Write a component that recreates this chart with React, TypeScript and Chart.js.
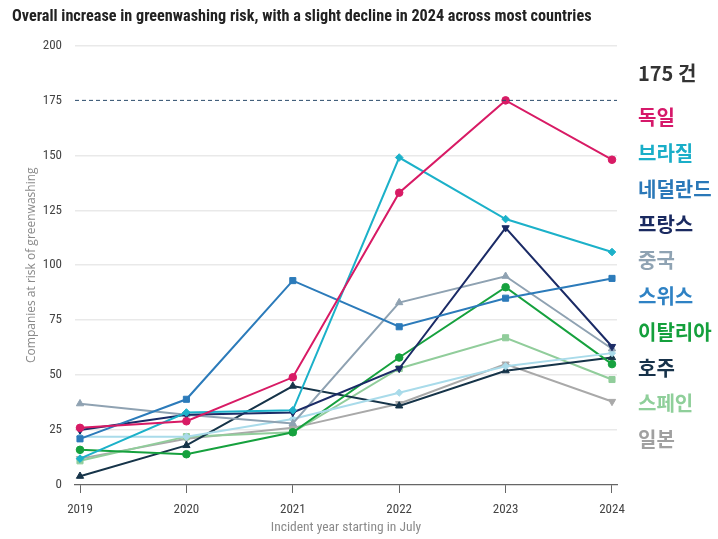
import React, { useEffect, useRef } from "react";
import { Chart, registerables } from "chart.js";

Chart.register(...registerables);

const YEARS = [2019, 2020, 2021, 2022, 2023, 2024];
const Y_TICKS = [0, 25, 50, 75, 100, 125, 150, 175, 200];
const REF_VALUE = 175;
const REF_LABEL = "175 건";
const TITLE = "Overall increase in greenwashing risk, with a slight decline in 2024 across most countries";
const Y_TITLE = "Companies at risk of greenwashing";
const X_TITLE = "Incident year starting in July";

const COUNTRIES = ["독일", "브라질", "네덜란드", "프랑스", "중국", "스위스", "이탈리아", "호주", "스페인", "일본"];
const GERMANY = [26, 29, 49, 133, 175, 148];
const BRAZIL = [12, 33, 34, 149, 121, 106];
const NETHERLANDS = [21, 39, 93, 72, 85, 94];
const FRANCE = [25, 32, 33, 53, 117, 63];
const CHINA = [37, 32, 28, 83, 95, 62];
const SWITZERLAND = [22, 22, 30, 42, 54, 60];
const ITALY = [16, 14, 24, 58, 90, 55];
const AUSTRALIA = [4, 18, 45, 36, 52, 58];
const SPAIN = [11, 22, 24, 53, 67, 48];
const JAPAN = [12, 21, 26, 37, 55, 38];
const SERIES = [GERMANY, BRAZIL, NETHERLANDS, FRANCE, CHINA, SWITZERLAND, ITALY, AUSTRALIA, SPAIN, JAPAN];

const LINE_COLORS = ["#d81b65", "#1cb1c9", "#2c7bba", "#1b2b66", "#8fa2b2", "#a9dbea", "#16a13e", "#163449", "#91cd9b", "#a9a9a9"];
const LEGEND_COLORS = ["#d6186a", "#1aaec8", "#2a78b8", "#1a2a60", "#8fa3b3", "#2f82c4", "#14a03c", "#17324a", "#8fcf9a", "#a0a0a0"];
const POINT_STYLES = ["circle", "rectRot", "rect", "triangle", "triangle", "rectRot", "circle", "triangle", "rect", "triangle"];
const POINT_ROT = [0, 0, 0, 180, 0, 0, 0, 0, 0, 180];
const POINT_R = [3.8, 3.8, 4.3, 4.2, 4.2, 3.6, 3.8, 4.2, 4.3, 4.2];

const NARROW = "'Liberation Sans Narrow', 'Roboto Condensed', 'Arial Narrow', 'Liberation Sans', sans-serif";
const KR = "'Noto Sans CJK KR', 'Noto Sans', sans-serif";

const refLine = {
  id: "refLine",
  afterDatasetsDraw(chart: any) {
    const { ctx, chartArea, scales } = chart;
    const y = scales.y.getPixelForValue(REF_VALUE);
    ctx.save();
    ctx.strokeStyle = "#2a4a6a";
    ctx.lineWidth = 1;
    ctx.setLineDash([4, 3]);
    ctx.beginPath();
    ctx.moveTo(chartArea.left, y);
    ctx.lineTo(chartArea.right, y);
    ctx.stroke();
    ctx.restore();
  },
};

export default function App() {
  const ref = useRef<HTMLCanvasElement | null>(null);

  useEffect(() => {
    if (!ref.current) return;
    const datasets = COUNTRIES.map((name, i) => ({
      label: name,
      data: YEARS.map((yr, j) => ({ x: yr, y: SERIES[i][j] })),
      borderColor: LINE_COLORS[i],
      backgroundColor: LINE_COLORS[i],
      borderWidth: 2,
      pointStyle: POINT_STYLES[i] as any,
      rotation: POINT_ROT[i],
      pointRadius: POINT_R[i],
      pointBorderWidth: 1,
      tension: 0,
    }));
    const chart = new Chart(ref.current, {
      type: "line",
      data: { datasets },
      plugins: [refLine],
      options: {
        animation: false,
        responsive: true,
        maintainAspectRatio: false,
        layout: { padding: { left: 12, right: 101, top: 0, bottom: 0 } },
        plugins: {
          legend: { display: false },
          tooltip: { enabled: false },
          title: {
            display: true,
            text: TITLE,
            align: "start",
            color: "#222",
            font: { family: NARROW, size: 16.2, weight: "bold" },
            padding: { top: 7, bottom: 19 },
          },
        },
        scales: {
          x: {
            type: "linear",
            min: YEARS[0] - 0.047,
            max: YEARS[YEARS.length - 1] + 0.047,
            afterBuildTicks: (axis: any) => {
              axis.ticks = YEARS.map((v) => ({ value: v }));
            },
            afterFit: (axis: any) => {
              axis.height = 54;
            },
            ticks: {
              color: "#444",
              font: { family: NARROW, size: 13 },
              padding: 9,
              callback: (v: any) => String(v),
              maxRotation: 0,
              autoSkip: false,
            },
            grid: { display: true, drawOnChartArea: false, drawTicks: true, tickLength: 8, color: "#666", lineWidth: 1 },
            border: { display: true, color: "#666", width: 1.2 },
            title: {
              display: true,
              text: X_TITLE,
              color: "#8a8a8a",
              font: { family: NARROW, size: 13.5 },
              padding: { top: 0, bottom: 3 },
            },
          },
          y: {
            type: "linear",
            min: 0,
            max: 200,
            afterBuildTicks: (axis: any) => {
              axis.ticks = Y_TICKS.map((v) => ({ value: v }));
            },
            afterFit: (axis: any) => {
              axis.width = 63;
            },
            ticks: {
              color: "#444",
              font: { family: NARROW, size: 13 },
              padding: 13,
            },
            grid: {
              drawTicks: false,
              color: (c: any) => (c.tick && (c.tick.value === REF_VALUE || c.tick.value === 0) ? "rgba(0,0,0,0)" : "#e9e9e9"),
              lineWidth: 1.5,
            },
            border: { display: false },
            title: {
              display: true,
              text: Y_TITLE,
              color: "#8a8a8a",
              font: { family: "'Open Sans', 'Noto Sans', sans-serif", size: 12 },
              padding: { top: 12, bottom: 0 },
            },
          },
        },
      },
    });
    return () => chart.destroy();
  }, []);

  const legendTop = 117;
  const legendStep = 35.8;
  const legendFont = 20;

  return (
    <div style={{ position: "fixed", left: 0, top: 0, width: 718, height: 539, background: "#fff" }}>
      <canvas ref={ref} />
      <div
        style={{
          position: "absolute",
          left: 638,
          top: 73,
          transform: "translateY(-50%)",
          fontFamily: KR,
          fontWeight: 700,
          fontSize: legendFont,
          color: "#333",
          lineHeight: 1,
          whiteSpace: "nowrap",
        }}
      >
        {REF_LABEL}
      </div>
      {COUNTRIES.map((name, i) => (
        <div
          key={name}
          style={{
            position: "absolute",
            left: 638,
            top: legendTop + i * legendStep,
            transform: "translateY(-50%)",
            fontFamily: KR,
            fontWeight: 700,
            fontSize: legendFont,
            color: LEGEND_COLORS[i],
            lineHeight: 1,
            whiteSpace: "nowrap",
          }}
        >
          {name}
        </div>
      ))}
    </div>
  );
}
